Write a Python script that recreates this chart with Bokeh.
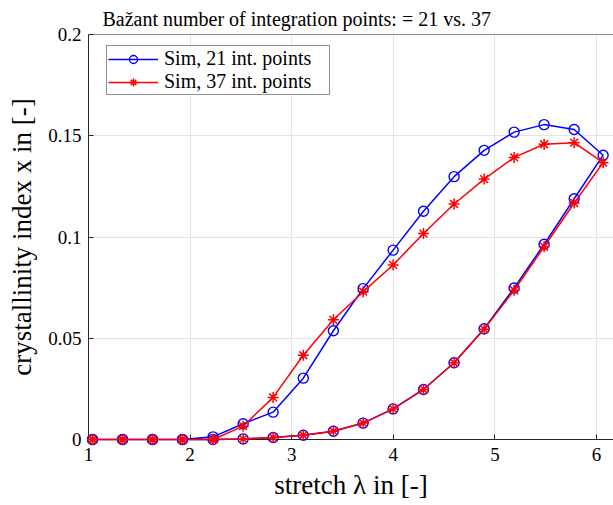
from bokeh.plotting import figure
from bokeh.models import Range1d, FixedTicker, Legend, LegendItem, Span
from bokeh.embed import file_html
from bokeh.resources import INLINE

# stretch values at the marker positions (loading branch, increasing)
lam = [1.04, 1.335, 1.63, 1.925, 2.226, 2.522, 2.817, 3.114, 3.41, 3.703,
       3.998, 4.297, 4.598, 4.894, 5.189, 5.484, 5.78, 6.065]

# 21 integration points: loading (increasing lambda) and unloading (decreasing lambda from 5.78)
blue_load = [0.0, 0.0, 0.0, 0.0, 0.0013, 0.0078, 0.0135, 0.0303, 0.0537, 0.0745,
             0.0935, 0.1127, 0.1298, 0.1428, 0.1518, 0.1555, 0.1531, 0.1404]
blue_unload = [0.1189, 0.0964, 0.0748, 0.0547, 0.0379, 0.0247, 0.0151, 0.0081, 0.0041,
               0.0021, 0.0010, 0.0003, 0.0, 0.0, 0.0, 0.0, 0.0]

# 37 integration points
red_load = [0.0, 0.0, 0.0, 0.0, 0.0, 0.0066, 0.0208, 0.0416, 0.0591, 0.0730,
            0.0862, 0.1017, 0.1163, 0.1286, 0.1393, 0.1458, 0.1466, 0.1367]
red_unload = [0.1168, 0.0952, 0.0737, 0.0545, 0.0379, 0.0247, 0.0151, 0.0081, 0.0041,
              0.0021, 0.0010, 0.0003, 0.0, 0.0, 0.0, 0.0, 0.0]

x_ticks = [1, 2, 3, 4, 5, 6]
y_ticks = [0, 0.05, 0.1, 0.15, 0.2]
y_tick_labels = ["0", "0.05", "0.1", "0.15", "0.2"]

title_text = "Bažant number of integration points: = 21 vs. 37"
series_labels = ["Sim, 21 int. points", "Sim, 37 int. points"]

x_path = lam + lam[-2::-1]
blue = blue_load + blue_unload
red = red_load + red_unload

FONT = "Liberation Serif"
AX = "#262626"

p = figure(width=613, height=505, output_backend="svg", toolbar_location=None,
           x_range=Range1d(1, 6.167), y_range=Range1d(0, 0.2),
           min_border_left=88, min_border_right=0, min_border_top=29, min_border_bottom=66,
           title=title_text)
p.title.align = "left"
p.title.offset = 14
p.title.text_font = FONT
p.title.text_font_size = "20px"
p.title.text_font_style = "normal"
p.title.text_color = "black"
p.outline_line_color = None
p.background_fill_color = "white"
p.border_fill_color = "white"

xa = p.below[0]
ya = p.left[0]
xa.ticker = FixedTicker(ticks=x_ticks)
ya.ticker = FixedTicker(ticks=y_ticks)
ya.major_label_overrides = {t: s for t, s in zip(y_ticks, y_tick_labels)}
for ax in (xa, ya):
    ax.major_tick_in = 5
    ax.major_tick_out = 0
    ax.minor_tick_line_color = None
    ax.axis_line_color = AX
    ax.major_tick_line_color = AX
    ax.major_label_text_font = FONT
    ax.major_label_text_font_size = "19px"
    ax.major_label_text_color = "black"
    ax.axis_label_text_font = FONT
    ax.axis_label_text_font_size = "27px"
    ax.axis_label_text_font_style = "normal"
    ax.axis_label_text_color = "black"
xa.axis_label = "stretch λ in [-]"
ya.axis_label = "crystallinity index x in [-]"
xa.major_label_standoff = 8
ya.major_label_standoff = 7
xa.axis_label_standoff = 6
ya.axis_label_standoff = 8

# top edge of the axes box
p.add_layout(Span(location=y_ticks[-1], dimension="width", line_color=AX, line_width=1))

p.grid.grid_line_color = "#e4e4e4"
p.grid.grid_line_width = 1

bl = p.line(x_path, blue, line_color="#0000ff", line_width=1.5, level="overlay")
bs = p.scatter(x_path, blue, marker="circle", size=10, fill_color=None,
               line_color="#0000ff", line_width=1.4, level="overlay")
rl = p.line(x_path, red, line_color="#ff0000", line_width=1.5, level="overlay")
rs = p.scatter(x_path, red, marker="asterisk", size=11, line_color="#ff0000",
               line_width=1.5, level="overlay")

legend = Legend(items=[LegendItem(label=series_labels[0], renderers=[bl, bs]),
                       LegendItem(label=series_labels[1], renderers=[rl, rs])],
                location=(18, 344), border_line_color=AX, border_line_width=1,
                background_fill_color="white", background_fill_alpha=1,
                padding=1, spacing=0, glyph_width=50, glyph_height=20,
                label_height=20, label_width=164, label_standoff=6, margin=0,
                label_text_font=FONT, label_text_font_size="20px", label_text_color="black")
p.add_layout(legend)

open("out.html", "w").write(file_html(p, INLINE))
